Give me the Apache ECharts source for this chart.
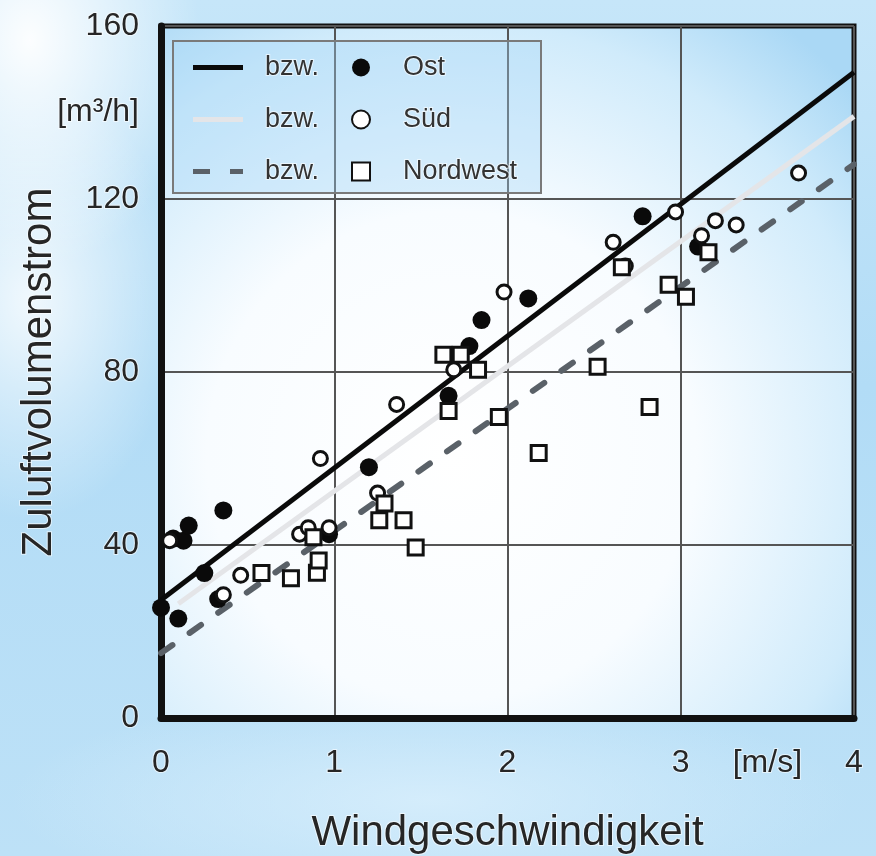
<!DOCTYPE html>
<html>
<head>
<meta charset="utf-8">
<script src="https://cdn.jsdelivr.net/npm/echarts@6/dist/echarts.min.js"></script>
<style>
  html, body { margin: 0; padding: 0; }
  body {
    width: 876px; height: 856px; overflow: hidden;
    background:
      radial-gradient(ellipse 170px 230px at 30px 40px, rgba(255,255,255,0.95), rgba(255,255,255,0) 100%),
      radial-gradient(ellipse 150px 220px at 30px 300px, rgba(255,255,255,0.8), rgba(255,255,255,0) 100%),
      radial-gradient(ellipse 420px 110px at 430px 800px, rgba(215,238,252,0.9), rgba(215,238,252,0) 100%),
      linear-gradient(180deg, #c6e6f9 0%, #b2dcf6 45%, #bde1f7 100%);
  }
  #chart { width: 876px; height: 856px; }
</style>
</head>
<body>
<div id="chart"></div>
<script>
// ---- data ----
const ostX   = [0.00, 0.10, 0.07, 0.13, 0.16, 0.36, 0.25, 0.33, 0.97, 1.20, 1.66, 1.78, 1.85, 2.12, 2.78, 3.10];
const ostY   = [25.5, 23.0, 41.5, 41.0, 44.5, 48.0, 33.5, 27.5, 42.5, 58.0, 74.5, 86.0, 92.0, 97.0, 116.0, 109.0];

const suedX  = [0.05, 0.36, 0.46, 0.80, 0.85, 0.97, 0.92, 1.25, 1.36, 1.69, 1.98, 2.61, 2.68, 2.97, 3.12, 3.20, 3.32, 3.68];
const suedY  = [41.0, 28.5, 33.0, 42.5, 44.0, 44.0, 60.0, 52.0, 72.5, 80.5, 98.5, 110.0, 104.5, 117.0, 111.5, 115.0, 114.0, 126.0];

const nwX    = [0.58, 0.75, 0.88, 0.90, 0.91, 1.26, 1.29, 1.40, 1.47, 1.63, 1.73, 1.83, 1.66, 1.95, 2.18, 2.52, 2.66, 2.82, 2.93, 3.03, 3.16];
const nwY    = [33.5, 32.3, 41.8, 33.6, 36.4, 45.7, 49.6, 45.7, 39.4, 84.0, 84.0, 80.5, 71.0, 69.6, 61.3, 81.2, 104.2, 71.9, 100.2, 97.4, 107.7];

// regression line end points
const ostLineX  = [0, 4];
const ostLineY  = [27.3, 149.3];
const suedLineX = [0.1, 4];
const suedLineY = [26.4, 139.1];
const nwLineX   = [0, 4];
const nwLineY   = [15.0, 128.0];

// names and tick labels
const seriesNames  = ['Ost', 'Süd', 'Nordwest'];
const lineNames    = ['Ost-Linie', 'Süd-Linie', 'Nordwest-Linie'];
const lineLegendText = 'bzw.';
const xLabelValues = [0, 1, 2, 3, 3.5, 4];
const xLabelTexts  = ['0', '1', '2', '3', '[m/s]', '4'];
const yLabelValues = [0, 40, 80, 120, 140, 160];
const yLabelTexts  = ['0', '40', '80', '120', '[m\u00b3/h]', '160'];
const xTitle = 'Windgeschwindigkeit';
const yTitle = 'Zuluftvolumenstrom';

// ---- build ----
const zip = (xs, ys) => xs.map((x, i) => [x, ys[i]]);
const lookup = (vals, texts) => v => {
  const i = vals.findIndex(t => Math.abs(t - v) < 1e-6);
  return i >= 0 ? texts[i] : '';
};
const FONT = 'Liberation Sans, Arial, sans-serif';
const HALO = { textBorderColor: 'rgba(255,255,255,0.6)', textBorderWidth: 2 };
const labelStyle = Object.assign({ color: '#262626', fontFamily: FONT, fontSize: 32 }, HALO);
const titleStyle = Object.assign({ color: '#262626', fontFamily: FONT, fontSize: 42 }, HALO);
const legendText = Object.assign({ color: '#333', fontFamily: FONT, fontSize: 27, lineHeight: 28 }, HALO);

const LINE_SOLID  = 'path://M0,0H50V5H0Z';
const LINE_DASHED = 'path://M0,0H17V5H0Z M37,0H50V5H37Z';
const lineColors = ['#0a0a0a', '#e4e5e8', '#5a6168'];

const chart = echarts.init(document.getElementById('chart'), null, { renderer: 'canvas' });
chart.setOption({
  animation: false,
  backgroundColor: 'transparent',
  grid: {
    left: 161, right: 22, top: 26, bottom: 138,
    outerBoundsMode: 'none',
    containLabel: false,
    show: true,
    borderColor: '#111', borderWidth: 5,
    backgroundColor: {
      type: 'radial', x: 0.42, y: 0.62, r: 0.78,
      colorStops: [
        { offset: 0, color: '#ffffff' },
        { offset: 0.45, color: '#f8fcff' },
        { offset: 0.8, color: '#d0ebfb' },
        { offset: 1, color: '#aad8f5' }
      ]
    }
  },
  xAxis: [
    {
      type: 'value', min: 0, max: 4, interval: 1,
      axisLine: { show: true, onZero: false, lineStyle: { color: '#111', width: 7 } },
      axisTick: { show: false },
      axisLabel: { show: false },
      splitLine: { show: true, lineStyle: { color: '#555', width: 2 } },
      name: xTitle, nameLocation: 'middle', nameGap: 94,
      nameTextStyle: titleStyle
    },
    {
      type: 'value', min: 0, max: 4, interval: 0.5, position: 'bottom',
      axisLine: { show: false }, axisTick: { show: false }, splitLine: { show: false },
      axisLabel: Object.assign({ margin: 29, formatter: lookup(xLabelValues, xLabelTexts) }, labelStyle)
    }
  ],
  yAxis: [
    {
      type: 'value', min: 0, max: 160, interval: 40, position: 'left',
      axisLine: { show: true, onZero: false, lineStyle: { color: '#111', width: 7 } },
      axisTick: { show: false },
      axisLabel: { show: false },
      splitLine: { show: true, lineStyle: { color: '#555', width: 2 } },
      name: yTitle, nameLocation: 'middle', nameGap: 101, nameRotate: 90,
      nameTextStyle: titleStyle
    },
    {
      type: 'value', min: 0, max: 160, interval: 20, position: 'left',
      axisLine: { show: false }, axisTick: { show: false }, splitLine: { show: false },
      axisLabel: Object.assign({ margin: 22, formatter: lookup(yLabelValues, yLabelTexts) }, labelStyle)
    }
  ],
  legend: [
    {
      data: [
        { name: lineNames[0], icon: LINE_SOLID },
        { name: lineNames[1], icon: LINE_SOLID },
        { name: lineNames[2], icon: LINE_DASHED }
      ],
      orient: 'vertical', left: 188, top: 48,
      itemWidth: 50, itemHeight: 5, itemGap: 23,
      formatter: () => lineLegendText,
      textStyle: Object.assign({ padding: [0, 0, 0, 17] }, legendText),
      selectedMode: false
    },
    {
      data: seriesNames, orient: 'vertical', left: 346, top: 48,
      itemWidth: 18, itemHeight: 18, itemGap: 23,
      textStyle: Object.assign({ padding: [0, 0, 0, 28] }, legendText),
      selectedMode: false
    }
  ],
  graphic: [
    { type: 'rect', left: 172, top: 40, shape: { width: 368, height: 152 },
      style: { fill: 'rgba(160,212,245,0.35)', stroke: '#7a7a7a', lineWidth: 2 }, z: 1 }
  ],
  series: [
    { name: lineNames[0], type: 'line', data: zip(ostLineX, ostLineY), symbol: 'none', color: lineColors[0],
      lineStyle: { color: lineColors[0], width: 5 }, z: 2 },
    { name: lineNames[1], type: 'line', data: zip(suedLineX, suedLineY), symbol: 'none', color: lineColors[1],
      lineStyle: { color: lineColors[1], width: 5 }, z: 2 },
    { name: lineNames[2], type: 'line', data: zip(nwLineX, nwLineY), symbol: 'none', color: lineColors[2],
      lineStyle: { color: lineColors[2], width: 6, type: [14, 21], cap: 'round' }, z: 2 },
    { name: seriesNames[0], type: 'scatter', data: zip(ostX, ostY), symbol: 'circle', symbolSize: 18,
      itemStyle: { color: '#0a0a0a', opacity: 1 }, z: 3 },
    { name: seriesNames[1], type: 'scatter', data: zip(suedX, suedY), symbol: 'circle', symbolSize: 14,
      itemStyle: { color: '#ffffff', borderColor: '#111', borderWidth: 3, opacity: 1 }, z: 4 },
    { name: seriesNames[2], type: 'scatter', data: zip(nwX, nwY), symbol: 'rect', symbolSize: 15,
      itemStyle: { color: '#ffffff', borderColor: '#111', borderWidth: 3, opacity: 1 }, z: 5 }
  ]
});
</script>
</body>
</html>
